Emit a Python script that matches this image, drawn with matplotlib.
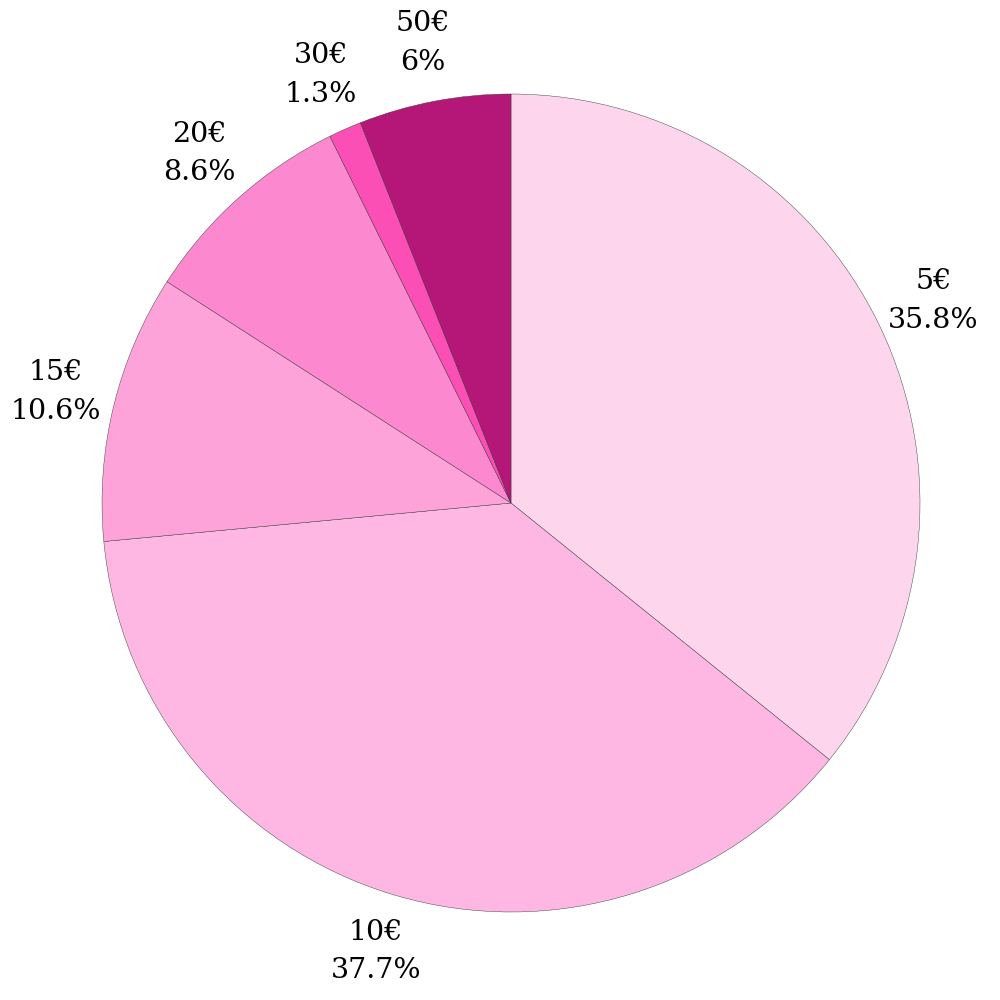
import matplotlib.pyplot as plt

labels = ['5€', '10€', '15€', '20€', '30€', '50€']
shares = [35.8, 37.7, 10.6, 8.6, 1.3, 6]
colors = ['#fdd5ec', '#fdb7e2', '#fda3da', '#fc88d0', '#fc4fb5', '#b51778']

fig = plt.figure(figsize=(10, 10), dpi=100)
ax = fig.add_axes([0.511 - 0.409, 0.497 - 0.409, 0.818, 0.818])

texts = [f'{l}\n{s:g}%' for l, s in zip(labels, shares)]
wedges, lbls = ax.pie(shares, labels=texts, colors=colors, startangle=90,
                      counterclock=False, radius=1, labeldistance=1.145,
                      wedgeprops=dict(edgecolor='#333333', linewidth=0.3),
                      textprops=dict(fontsize=20.5, family='DejaVu Serif',
                                     linespacing=1.55))
for t in lbls:
    t.set_ha('center')
    t.set_va('center')

ax.set_xlim(-1, 1)
ax.set_ylim(-1, 1)
ax.set_aspect('equal')
ax.axis('off')

fig.savefig('out.png', dpi=100)
